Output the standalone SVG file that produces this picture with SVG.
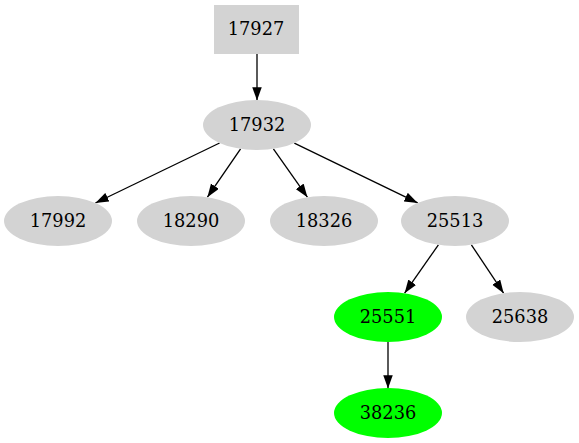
<svg xmlns="http://www.w3.org/2000/svg" width="579" height="443" viewBox="0 0 579 443">
<style>
.n{fill:#d3d3d3;stroke:none}
.g{fill:#00ff00;stroke:none}
.t{font-family:"DejaVu Serif","Liberation Serif",serif;font-size:17.8px;fill:#000;text-anchor:middle}
.e{stroke:#000;stroke-width:1.3;fill:none;marker-end:url(#ah)}
</style>
<defs>
<marker id="ah" markerUnits="userSpaceOnUse" markerWidth="14" markerHeight="10" refX="13.3" refY="4.75" orient="auto">
<path d="M0,0 L13.3,4.75 L0,9.5 z" fill="#000"/>
</marker>
</defs>
<rect width="579" height="443" fill="#fff"/>
<g id="edges">
<line class="e" x1="257" y1="54" x2="257" y2="100.5"/>
<line class="e" x1="219.6" y1="143" x2="95.4" y2="203"/>
<line class="e" x1="240.6" y1="148.8" x2="207.4" y2="197.2"/>
<line class="e" x1="273.4" y1="148.8" x2="307.4" y2="197.2"/>
<line class="e" x1="294.3" y1="143.1" x2="417.7" y2="202.9"/>
<line class="e" x1="438.4" y1="244.8" x2="404.6" y2="293.2"/>
<line class="e" x1="471.4" y1="244.8" x2="503.6" y2="293.2"/>
<line class="e" x1="388" y1="342" x2="388" y2="388.5"/>
</g>
<g id="n17927"><rect class="n" x="214" y="5" width="85" height="49"/><text class="t" x="256" y="34.5">17927</text></g>
<g id="n17932"><ellipse class="n" cx="257" cy="125" rx="54" ry="25"/><text class="t" x="257" y="131">17932</text></g>
<g id="n17992"><ellipse class="n" cx="58" cy="221" rx="54" ry="25"/><text class="t" x="58" y="227">17992</text></g>
<g id="n18290"><ellipse class="n" cx="191" cy="221" rx="54" ry="25"/><text class="t" x="191" y="227">18290</text></g>
<g id="n18326"><ellipse class="n" cx="324" cy="221" rx="54" ry="25"/><text class="t" x="324" y="227">18326</text></g>
<g id="n25513"><ellipse class="n" cx="455" cy="221" rx="54" ry="25"/><text class="t" x="455" y="227">25513</text></g>
<g id="n25551"><ellipse class="g" cx="388" cy="317" rx="54" ry="25"/><text class="t" x="388" y="323">25551</text></g>
<g id="n25638"><ellipse class="n" cx="520" cy="317" rx="54" ry="25"/><text class="t" x="520" y="323">25638</text></g>
<g id="n38236"><ellipse class="g" cx="388" cy="413" rx="54" ry="25"/><text class="t" x="388" y="419">38236</text></g>
</svg>
